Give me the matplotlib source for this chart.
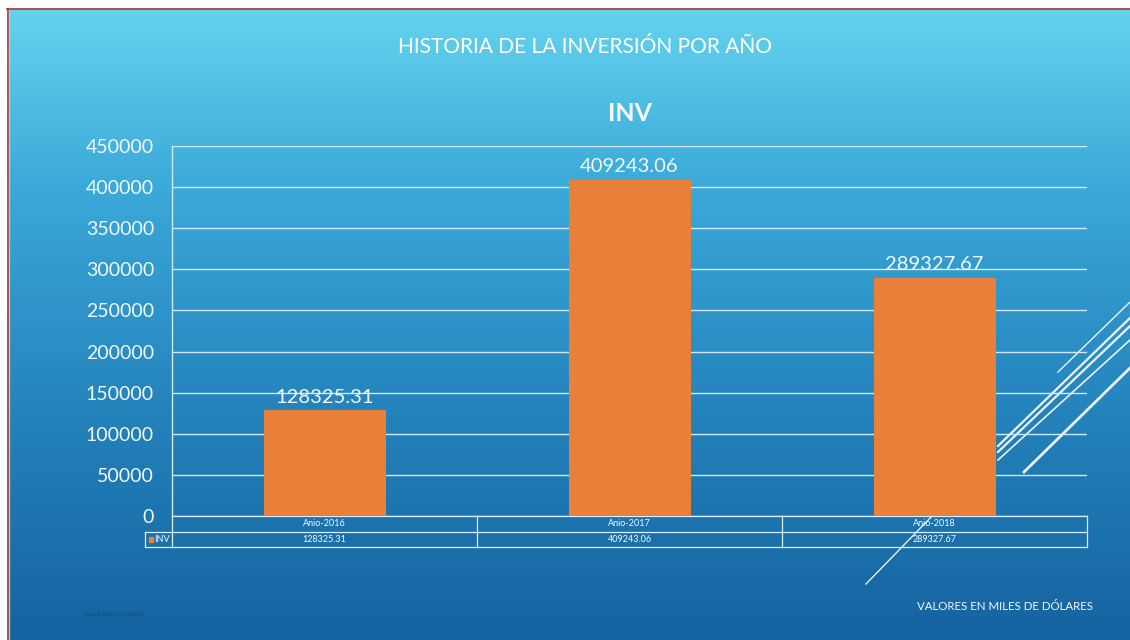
import matplotlib
matplotlib.use("Agg")
import matplotlib.pyplot as plt
import numpy as np
from matplotlib.colors import LinearSegmentedColormap
from matplotlib.patches import Rectangle

# data
years = ["Anio-2016", "Anio-2017", "Anio-2018"]
inv = [128325.31, 409243.06, 289327.67]
series_name = "INV"
yticks = [0, 50000, 100000, 150000, 200000, 250000, 300000, 350000, 400000, 450000]

FONT = ["Lato", "DejaVu Sans"]
WHITE = "#f2f8fb"
ORANGE = "#e8803a"

fig = plt.figure(figsize=(11.3, 6.4), dpi=100)

# slide background: vertical blue gradient
bg = fig.add_axes([0, 0, 1, 1], zorder=-10)
cmap = LinearSegmentedColormap.from_list(
    "slide", [(0, "#1563a0"), (0.35, "#2482bb"), (0.7, "#3aa8d8"), (1, "#66d5f0")])
grad = np.linspace(0, 1, 256).reshape(-1, 1)
bg.imshow(grad, aspect="auto", cmap=cmap, origin="lower", extent=[0, 1, 0, 1])
bg.set_xlim(0, 1)
bg.set_ylim(0, 1)
# white margin + thin red frame at top/left
bg.add_patch(Rectangle((0, 1 - 8 / 640), 1, 8 / 640, color="white", zorder=2))
bg.add_patch(Rectangle((0, 0), 7 / 1130, 1, color="white", zorder=2))
bg.plot([7 / 1130, 1], [1 - 8.5 / 640, 1 - 8.5 / 640], color="#a8302a", lw=1.2, zorder=3)
bg.plot([7.5 / 1130, 7.5 / 1130], [0, 1 - 8.5 / 640], color="#a8302a", lw=1.2, zorder=3)
bg.plot([9 / 1130] * 2, [0, 1 - 10 / 640], color="#d9b8c0", lw=1, zorder=3)

# decorative diagonal lines on the right
def px(x, y):
    return x / 1130, 1 - y / 640

for (x0, y0, x1, y1, lw) in [(1058, 372, 1130, 302, 1.0),
                             (998, 446, 1130, 318, 1.6),
                             (998, 452, 1130, 326, 1.6),
                             (998, 460, 1130, 340, 1.2),
                             (1024, 472, 1130, 368, 2.0),
                             (866, 584, 936, 512, 1.0)]:
    a, b = px(x0, y0)
    c, d = px(x1, y1)
    bg.plot([a, c], [b, d], color="white", lw=lw, alpha=0.9, zorder=4)
bg.axis("off")

fig.text(0.518, 1 - 47 / 640, "HISTORIA DE LA INVERSIÓN POR AÑO", ha="center", va="center",
         fontsize=15, color="white", family=FONT)
fig.text(1093 / 1130, 1 - 606 / 640, "VALORES EN MILES DE DÓLARES", ha="right", va="center",
         fontsize=8.3, color=WHITE, family=FONT)
fig.text(0.074, 1 - 614 / 640, "Fuente Banco Fundacion", ha="left", va="center",
         fontsize=4, color="#15477a", family=FONT)

# chart
ax = fig.add_axes([172 / 1130, 1 - 516 / 640, 915 / 1130, 370 / 640])
ax.patch.set_alpha(0)
x = np.arange(len(years))
bars = ax.bar(x, inv, width=0.4, color=ORANGE, zorder=3)
ax.set_xlim(-0.5, 2.5)
ax.set_ylim(0, 450000)
ax.set_yticks(yticks)
ax.set_yticklabels([str(v) for v in yticks], family=FONT, fontsize=14, color=WHITE)
ax.tick_params(axis="y", length=0, pad=13)
ax.set_xticks([])
ax.grid(axis="y", color="#cfeaf6", lw=1, zorder=0)
for s in ["top", "right", "bottom"]:
    ax.spines[s].set_visible(False)
ax.spines["left"].set_color("#cfeaf6")
ax.spines["left"].set_linewidth(1)

for xi, v in zip(x, inv):
    ax.text(xi, v + 6000, f"{v:.2f}", ha="center", va="bottom", fontsize=14.5,
            color=WHITE, family=FONT)

ax.set_title("INV", fontsize=18, fontweight="bold", color=WHITE, family=FONT, pad=18)

# data table under the chart
tr = ax.get_xaxis_transform()
row_h = 15.5 / 370
left = -0.589
kw = dict(color="#d8eef8", lw=0.9, transform=tr, clip_on=False)
ax.plot([-0.5, 2.5], [0, 0], **kw)
ax.plot([left, 2.5], [-row_h, -row_h], **kw)
ax.plot([left, 2.5], [-2 * row_h, -2 * row_h], **kw)
ax.plot([left, left], [-row_h, -2 * row_h], **kw)
for bx in [-0.5, 0.5, 1.5, 2.5]:
    ax.plot([bx, bx], [0, -2 * row_h], **kw)
for xi, yr, v in zip(x, years, inv):
    ax.text(xi, -row_h / 2, yr, transform=tr, ha="center", va="center",
            fontsize=6.5, color=WHITE, family=FONT)
    ax.text(xi, -1.5 * row_h, f"{v:.2f}", transform=tr, ha="center", va="center",
            fontsize=6.5, color=WHITE, family=FONT)
ax.add_patch(Rectangle((left + 0.012, -1.5 * row_h - 0.007), 0.014, 0.014,
                       transform=tr, color=ORANGE, clip_on=False))
ax.text(left + 0.032, -1.5 * row_h, series_name, transform=tr, ha="left", va="center",
        fontsize=6.5, color=WHITE, family=FONT)

fig.savefig("out.png", dpi=100)
